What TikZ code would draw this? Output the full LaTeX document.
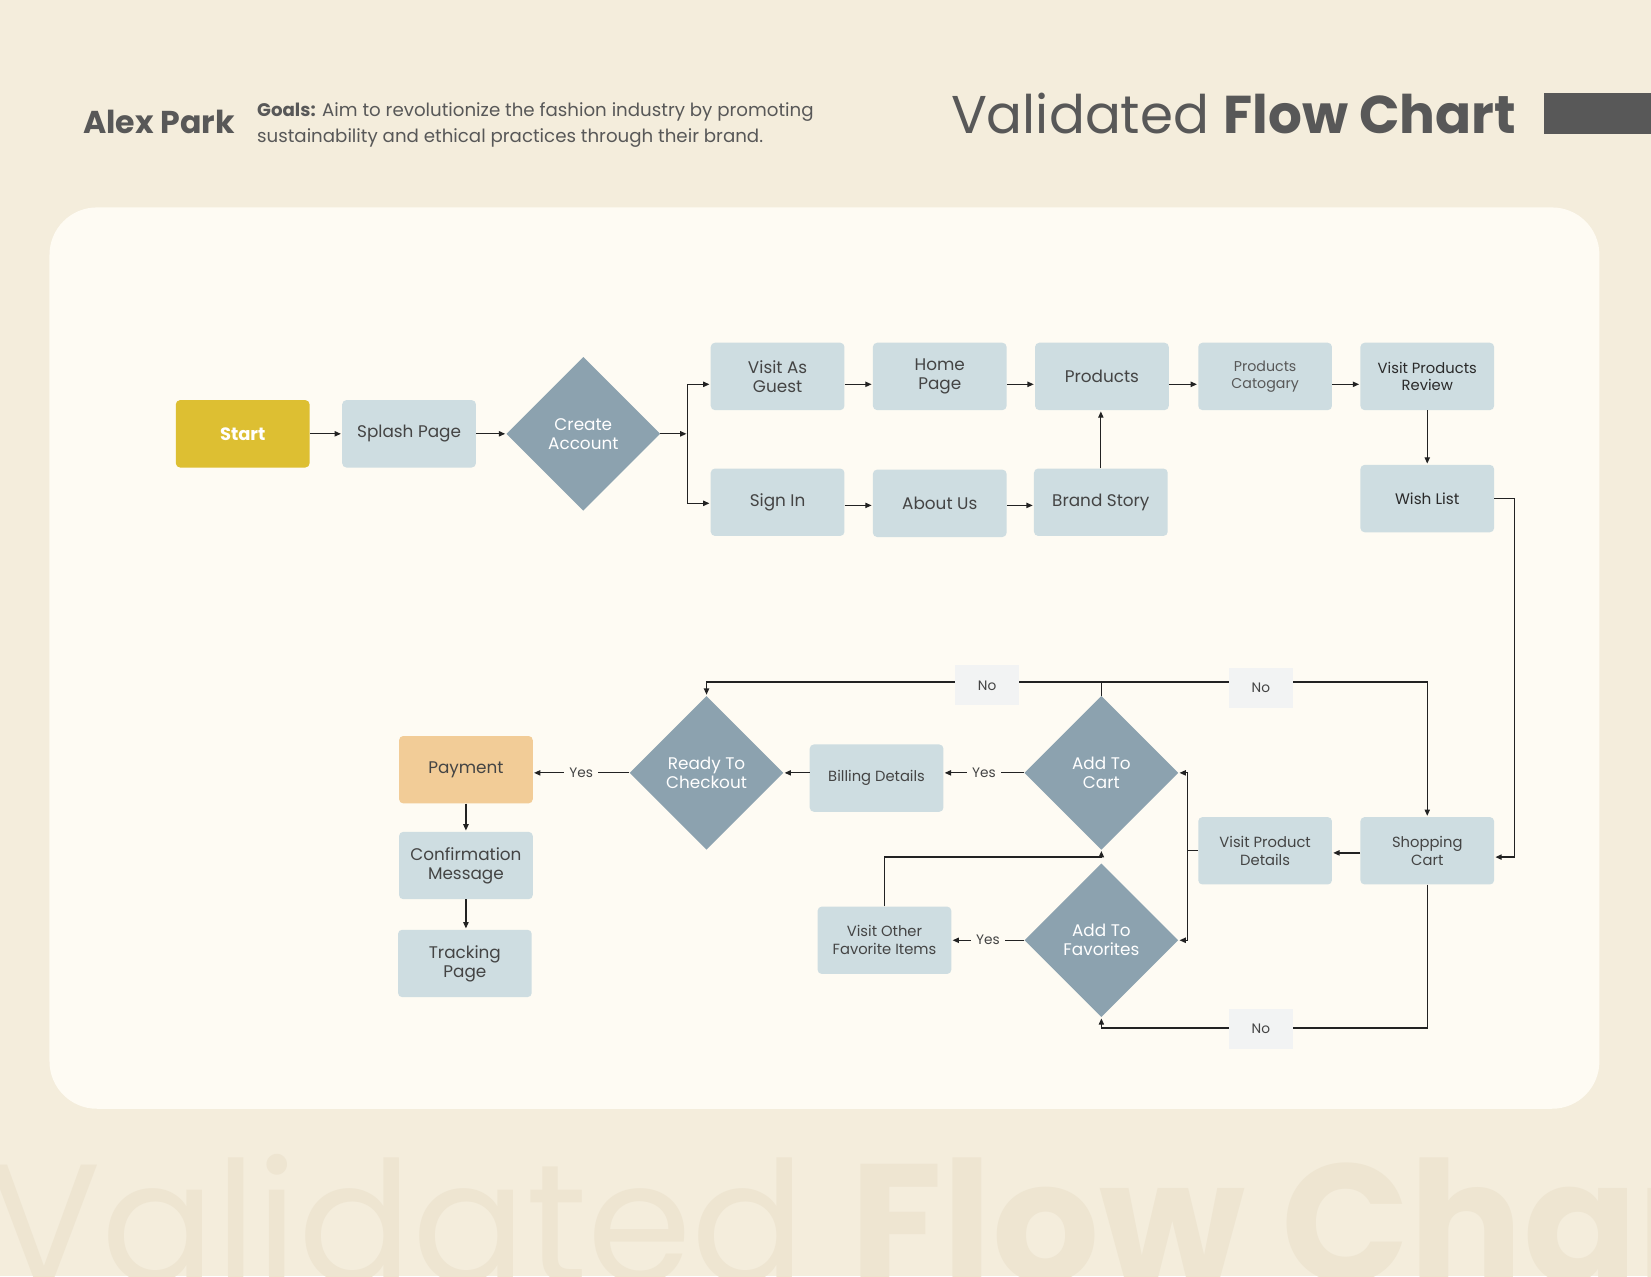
\documentclass[tikz,border=0pt]{standalone}
\usepackage{fontspec}
\setmainfont{Poppins}
\usetikzlibrary{shapes.geometric,arrows.meta,calc}
\definecolor{bg}{HTML}{F4EDDC}
\definecolor{panel}{HTML}{FEFBF3}
\definecolor{wm}{HTML}{EEE5D1}
\definecolor{boxc}{HTML}{CEDDE1}
\definecolor{diac}{HTML}{8CA2AF}
\definecolor{startc}{HTML}{DDBF32}
\definecolor{payc}{HTML}{F2CC97}
\definecolor{txt}{HTML}{444444}
\definecolor{dark}{HTML}{2A2A2A}
\definecolor{head}{HTML}{585858}
\definecolor{lblc}{HTML}{F2F3F3}
\definecolor{linec}{HTML}{222222}
\newcommand{\fs}[2]{\fontsize{#1}{#2}\selectfont}
\begin{document}
\begin{tikzpicture}[x=1pt,y=-1pt,
  base/.style={inner sep=0pt, align=center, text=txt},
  box/.style={base, rectangle, rounded corners=4pt, fill=boxc, minimum width=127pt, minimum height=64pt, font=\fs{16}{18}},
  sbox/.style={box, font=\fs{14}{17}},
  dia/.style={base, diamond, fill=diac, minimum width=146pt, minimum height=146pt, text=white, font=\fs{16}{18}},
  conn/.style={draw=linec, line width=1.2pt},
  arr/.style={conn, -{Triangle[length=6pt,width=5pt]}, shorten >=1pt},
  nolbl/.style={base, fill=lblc, minimum width=61pt, minimum height=38pt, font=\fs{13}{15}},
  yeslbl/.style={base, fill=panel, inner xsep=5pt, inner ysep=3pt, font=\fs{13}{15}}
]
\fill[bg] (0,0) rectangle (1568,1212);
\useasboundingbox (0,0) rectangle (1568,1212);
\begin{scope}
\clip (0,0) rectangle (1568,1212);
\node[anchor=base west, inner sep=0pt, text=wm, font=\fs{160}{165}] (wmark) at (-12,1218) {Validated \textbf{Flow Chart}};
\end{scope}
\fill[panel, rounded corners=45pt] (47,197) rectangle (1519,1053);

% header
\node[anchor=base west, inner sep=0pt, text=head, font=\fs{30}{34}\bfseries] (author) at (79,127) {Alex Park};
\node[anchor=base west, inner sep=0pt, text=head, font=\fs{17.3}{20}] (goal1) at (244,111) {\textbf{Goals:} Aim to revolutionize the fashion industry by promoting};
\node[anchor=base west, inner sep=0pt, text=head, font=\fs{17.3}{20}] (goal2) at (244,135) {sustainability and ethical practices through their brand.};
\node[anchor=base west, inner sep=0pt, text=head, font=\fs{50.5}{54}] (title) at (903,127) {Validated \textbf{Flow Chart}};
\fill[head] (1466,88) rectangle (1568,127);

% row 1
\node[box, fill=startc, text=white, font=\fs{17}{20}\bfseries] (start) at (230.5,412) {Start};
\node[box] (splash) at (388.5,412) {Splash Page};
\node[dia] (ca) at (554,412) {Create\\Account};
\node[box] (guest) at (738.5,357.5) {Visit As\\Guest};
\node[box] (home) at (892.5,357.5) {Home\\Page};
\node[box] (prod) at (1046.5,357.5) {Products};
\node[box, font=\fs{13.5}{16.5}, text=head] (cat) at (1201.5,357.5) {Products\\Catogary};
\node[sbox, text=dark] (review) at (1355.5,357.5) {Visit Products\\Review};
\node[box] (signin) at (738.5,477) {Sign In};
\node[box] (about) at (892.5,478) {About Us};
\node[box] (brand) at (1045.5,477) {Brand Story};
\node[box, font=\fs{14.5}{17}, text=dark] (wish) at (1355.5,473.5) {Wish List};

% lower part
\node[sbox] (cart) at (1355.5,808) {Shopping\\Cart};
\node[sbox] (vpd) at (1201.5,808) {Visit Product\\Details};
\node[dia] (ac) at (1046,734) {Add To\\Cart};
\node[dia] (af) at (1046,893) {Add To\\Favorites};
\node[dia] (rtc) at (671,734) {Ready To\\Checkout};
\node[sbox] (bill) at (832.5,739) {Billing Details};
\node[sbox] (vofi) at (840,893) {Visit Other\\Favorite Items};
\node[box, fill=payc] (pay) at (442.5,731) {Payment};
\node[box] (conf) at (442.5,822) {Confirmation\\Message};
\node[box] (track) at (441.5,915) {Tracking\\Page};

% connectors row 1
\coordinate (j1) at (653,412);
\draw[arr] (start) -- (splash);
\draw[arr] (splash) -- (ca);
\draw[arr] (ca.east) -- (j1);
\draw[arr] (j1) |- ([yshift=-7.5pt]guest.west);
\draw[arr] (j1) |- ([yshift=-1pt]signin.west);
\draw[arr] ([yshift=-7.5pt]guest.east) -- ([yshift=-7.5pt]home.west);
\draw[arr] ([yshift=-7.5pt]home.east) -- ([yshift=-7.5pt]prod.west);
\draw[arr] ([yshift=-7.5pt]prod.east) -- ([yshift=-7.5pt]cat.west);
\draw[arr] ([yshift=-7.5pt]cat.east) -- ([yshift=-7.5pt]review.west);
\draw[arr] ([yshift=-3pt]signin.east) -- ([yshift=-3pt]signin.east -| about.west);
\draw[arr] ([yshift=-3pt]signin.east -| about.east) -- ([yshift=-3pt]signin.east -| brand.west);
\draw[arr] (brand.north) -- (brand.north |- prod.south);
\draw[arr] (review.south) -- (wish.north);
\draw[arr] (wish.east) -- ++(19,0) |- ([yshift=-6pt]cart.east);

% connectors lower
\coordinate (j2) at ($(vpd.west)+(-10,0)$);
\draw[arr] ([yshift=-2pt]cart.west) -- ([yshift=-2pt]vpd.east);
\draw[conn] (vpd.west) -- (j2);
\draw[arr] (j2) |- (ac.east);
\draw[arr] (j2) |- (af.east);
\draw[arr] (ac.west) -- node[yeslbl] (yes1) {Yes} (ac.west -| bill.east);
\draw[arr] (ac.west -| bill.west) -- (rtc.east);
\draw[arr] (rtc.west) -- node[yeslbl] (yes2) {Yes} (rtc.west -| pay.east);
\draw[arr] (af.west) -- node[yeslbl] (yes3) {Yes} (vofi.east);
\draw[arr] (pay.south) -- (conf.north);
\draw[arr] (conf.south) -- (conf.south |- track.north);
\draw[arr] (ac.north) -- ++(0,-13) -| (rtc.north);
\draw[arr] (ac.north) -- ++(0,-13) -| (cart.north);
\draw[arr] (cart.south) -- ++(0,136) -| (af.south);
\draw[arr] (vofi.north) -- ++(0,-47) -| (ac.south);

% No labels
\node[nolbl] (no1) at (937.5,651) {No};
\node[nolbl] (no2) at (1197.5,653) {No};
\node[nolbl] (no3) at (1197.5,977) {No};
\end{tikzpicture}
\end{document}
